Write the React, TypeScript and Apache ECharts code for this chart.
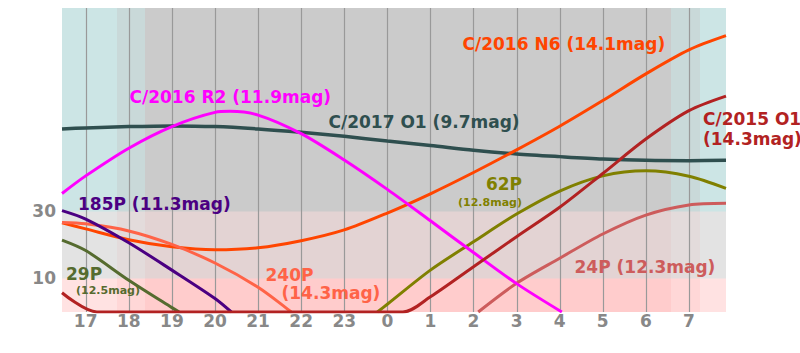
import React, { useEffect, useRef } from 'react';
import * as echarts from 'echarts';

// x axis: hours (after midnight => +24)
const hourTicks = [17, 18, 19, 20, 21, 22, 23, 24, 25, 26, 27, 28, 29, 30, 31];
const altTicks = [10, 30];
const xStart = 16.45;
const xEnd = 31.86;
const altMax = 90;

// sky shading: twilight edges (hours) and stage per interval (0 twilight, 1 astro twilight, 2 night)
const twilightEdges = [16.45, 17.73, 18.38, 30.58, 31.25, 31.86];
const twilightStage = [0, 1, 2, 1, 0];
const altEdges = [0, 10, 30, 90];
// per stage: colours for [0-10, 10-30, 30-90]
const stageColors = [
  ['#ffe2e2', '#e3e3e3', '#cce5e5'],
  ['#ffd7d7', '#e3dbdb', '#c9d9d9'],
  ['#ffcccc', '#e3d3d3', '#cbcbcb'],
];

// comet altitudes [hour, altitude deg]
const c2016N6 = [[16.45, 26.4], [17, 24.6], [18, 21.4], [19, 19.3], [20, 18.4], [21, 19.0], [22, 21.1], [23, 24.3], [24, 29.3], [25, 35.0], [26, 41.3], [27, 48.0], [28, 55.0], [29, 62.6], [30, 70.5], [31, 77.6], [31.86, 81.8]];
const c2016R2 = [[16.45, 35.1], [17, 40.3], [18, 48.5], [19, 54.9], [20, 59.1], [20.35, 59.4], [21, 58.3], [22, 52.8], [23, 45.0], [24, 36.3], [25, 27.0], [26, 17.6], [27, 8.4], [28.05, 0]];
const c2017O1 = [[16.45, 54.2], [17, 54.5], [18, 54.9], [19, 55.1], [20, 54.9], [21, 54.2], [22, 53.2], [23, 52.0], [24, 50.6], [25, 49.3], [26, 47.9], [27, 46.8], [28, 46.0], [29, 45.3], [30, 44.9], [31, 44.8], [31.86, 44.9]];
const p62 = [[23.77, 0], [24, 2.3], [25, 12.4], [26, 20.8], [27, 29.0], [28, 35.8], [29, 40.3], [30, 41.8], [31, 40.2], [31.86, 36.6]];
const p24 = [[26.11, 0], [27, 8.5], [28, 15.9], [29, 23.1], [30, 28.7], [31, 31.7], [31.86, 32.2]];
const p240 = [[16.45, 26.5], [17, 26.1], [18, 24.0], [19, 20.0], [20, 14.5], [21, 7.3], [21.77, 0]];
const p29 = [[16.45, 21.3], [17, 18.2], [18, 9.4], [19, 1.3], [19.17, 0]];
const p185 = [[16.45, 30.0], [17, 27.5], [18, 20.5], [19, 12.4], [20, 4.0], [20.38, 0]];
const c2015O1 = [[16.45, 5.7], [17.26, 0], [24.36, 0], [25, 4.5], [26, 13.4], [27, 22.3], [28, 31.0], [29, 41.0], [30, 51.2], [31, 59.6], [31.86, 63.9]];

const comets = [
  { name: 'C/2017 O1', data: c2017O1, color: '#2f4f4f', width: 3.5 },
  { name: 'C/2016 N6', data: c2016N6, color: '#ff4500', width: 3 },
  { name: '62P', data: p62, color: '#808000', width: 3 },
  { name: '24P', data: p24, color: '#cd5c5c', width: 3 },
  { name: '240P', data: p240, color: '#ff6347', width: 3 },
  { name: '29P', data: p29, color: '#556b2f', width: 3 },
  { name: '185P', data: p185, color: '#4b0082', width: 3 },
  { name: 'C/2016 R2', data: c2016R2, color: '#ff00ff', width: 3 },
  { name: 'C/2015 O1', data: c2015O1, color: '#b22222', width: 3 },
];

const BIG = 'bold 17px "DejaVu Sans"';
const SMALL = 'bold 11px "DejaVu Sans"';
const labels = [
  { text: 'C/2016 N6 (14.1mag)', x: 462.5, y: 44, color: '#ff4500', font: BIG, align: 'left' },
  { text: 'C/2016 R2 (11.9mag)', x: 129.5, y: 97, color: '#ff00ff', font: BIG, align: 'left' },
  { text: 'C/2017 O1 (9.7mag)', x: 328.5, y: 121.5, color: '#2f4f4f', font: BIG, align: 'left' },
  { text: 'C/2015 O1', x: 703, y: 119, color: '#b22222', font: BIG, align: 'left' },
  { text: '(14.3mag)', x: 703, y: 139, color: '#b22222', font: BIG, align: 'left' },
  { text: '62P', x: 522, y: 184, color: '#808000', font: BIG, align: 'right' },
  { text: '(12.8mag)', x: 522, y: 202, color: '#808000', font: SMALL, align: 'right' },
  { text: '185P (11.3mag)', x: 78, y: 203.5, color: '#4b0082', font: BIG, align: 'left' },
  { text: '29P', x: 66, y: 274, color: '#556b2f', font: BIG, align: 'left' },
  { text: '(12.5mag)', x: 76, y: 290.5, color: '#556b2f', font: SMALL, align: 'left' },
  { text: '240P', x: 265.5, y: 274.5, color: '#ff6347', font: BIG, align: 'left' },
  { text: '(14.3mag)', x: 281.5, y: 293, color: '#ff6347', font: BIG, align: 'left' },
  { text: '24P (12.3mag)', x: 574.5, y: 267, color: '#cd5c5c', font: BIG, align: 'left' },
];

export default function App() {
  const ref = useRef<HTMLDivElement>(null);
  useEffect(() => {
    if (!ref.current) return;
    const chart = echarts.init(ref.current, undefined, { renderer: 'svg' });

    const bgData: number[][] = [];
    for (let i = 0; i < twilightStage.length; i++) {
      for (let j = 0; j < altEdges.length - 1; j++) {
        bgData.push([twilightEdges[i], twilightEdges[i + 1], altEdges[j], altEdges[j + 1], twilightStage[i], j]);
      }
    }

    const option: any = {
      animation: false,
      grid: { left: 62, right: 74, top: 8, bottom: 41 },
      xAxis: {
        type: 'value',
        min: xStart,
        max: xEnd,
        axisLine: { show: false },
        axisTick: { show: false },
        splitLine: { show: false },
        axisLabel: {
          customValues: hourTicks,
          formatter: (v: number) => String(Math.round(v) % 24),
          color: '#888888',
          fontFamily: 'DejaVu Sans',
          fontWeight: 'bold',
          fontSize: 17,
          margin: 0,
        },
      },
      yAxis: {
        type: 'value',
        min: 0,
        max: altMax,
        axisLine: { show: false },
        axisTick: { show: false },
        splitLine: { show: false },
        axisLabel: {
          customValues: altTicks,
          color: '#888888',
          fontFamily: 'DejaVu Sans',
          fontWeight: 'bold',
          fontSize: 17,
          margin: 6,
        },
      },
      graphic: labels.map((l) => ({
        type: 'text',
        x: l.x,
        y: l.y,
        z: 100,
        style: { text: l.text, fill: l.color, font: l.font, align: l.align, verticalAlign: 'middle' },
      })),
      series: [
        {
          type: 'custom',
          z: 0,
          silent: true,
          clip: true,
          data: bgData,
          encode: { x: [0, 1], y: [2, 3] },
          renderItem: (params: any, api: any) => {
            const p0 = api.coord([api.value(0), api.value(3)]);
            const p1 = api.coord([api.value(1), api.value(2)]);
            const x0 = Math.round(p0[0]);
            const x1 = Math.round(p1[0]);
            const y0 = Math.round(p0[1]);
            const y1 = Math.round(p1[1]);
            return {
              type: 'rect',
              shape: { x: x0, y: y0, width: x1 - x0 + 0.5, height: y1 - y0 + 0.5 },
              style: { fill: stageColors[api.value(4)][api.value(5)] },
            };
          },
        },
        {
          type: 'custom',
          z: 1,
          silent: true,
          data: hourTicks.map((h) => [h]),
          encode: { x: 0 },
          renderItem: (params: any, api: any) => {
            const a = api.coord([api.value(0), 0]);
            const b = api.coord([api.value(0), altMax]);
            const x = Math.round(a[0]) + 0.5;
            return {
              type: 'line',
              shape: { x1: x, y1: a[1], x2: x, y2: b[1] },
              style: { stroke: '#999999', lineWidth: 1.2 },
            };
          },
        },
        ...comets.map((c) => ({
          type: 'line',
          name: c.name,
          z: 2,
          data: c.data,
          smooth: 0.3,
          showSymbol: false,
          symbol: 'none',
          silent: true,
          lineStyle: { color: c.color, width: c.width },
          itemStyle: { color: c.color },
        })),
      ],
    };
    chart.setOption(option);
    return () => chart.dispose();
  }, []);
  return <div ref={ref} style={{ width: 800, height: 353, position: 'absolute', left: 0, top: 0 }} />;
}
